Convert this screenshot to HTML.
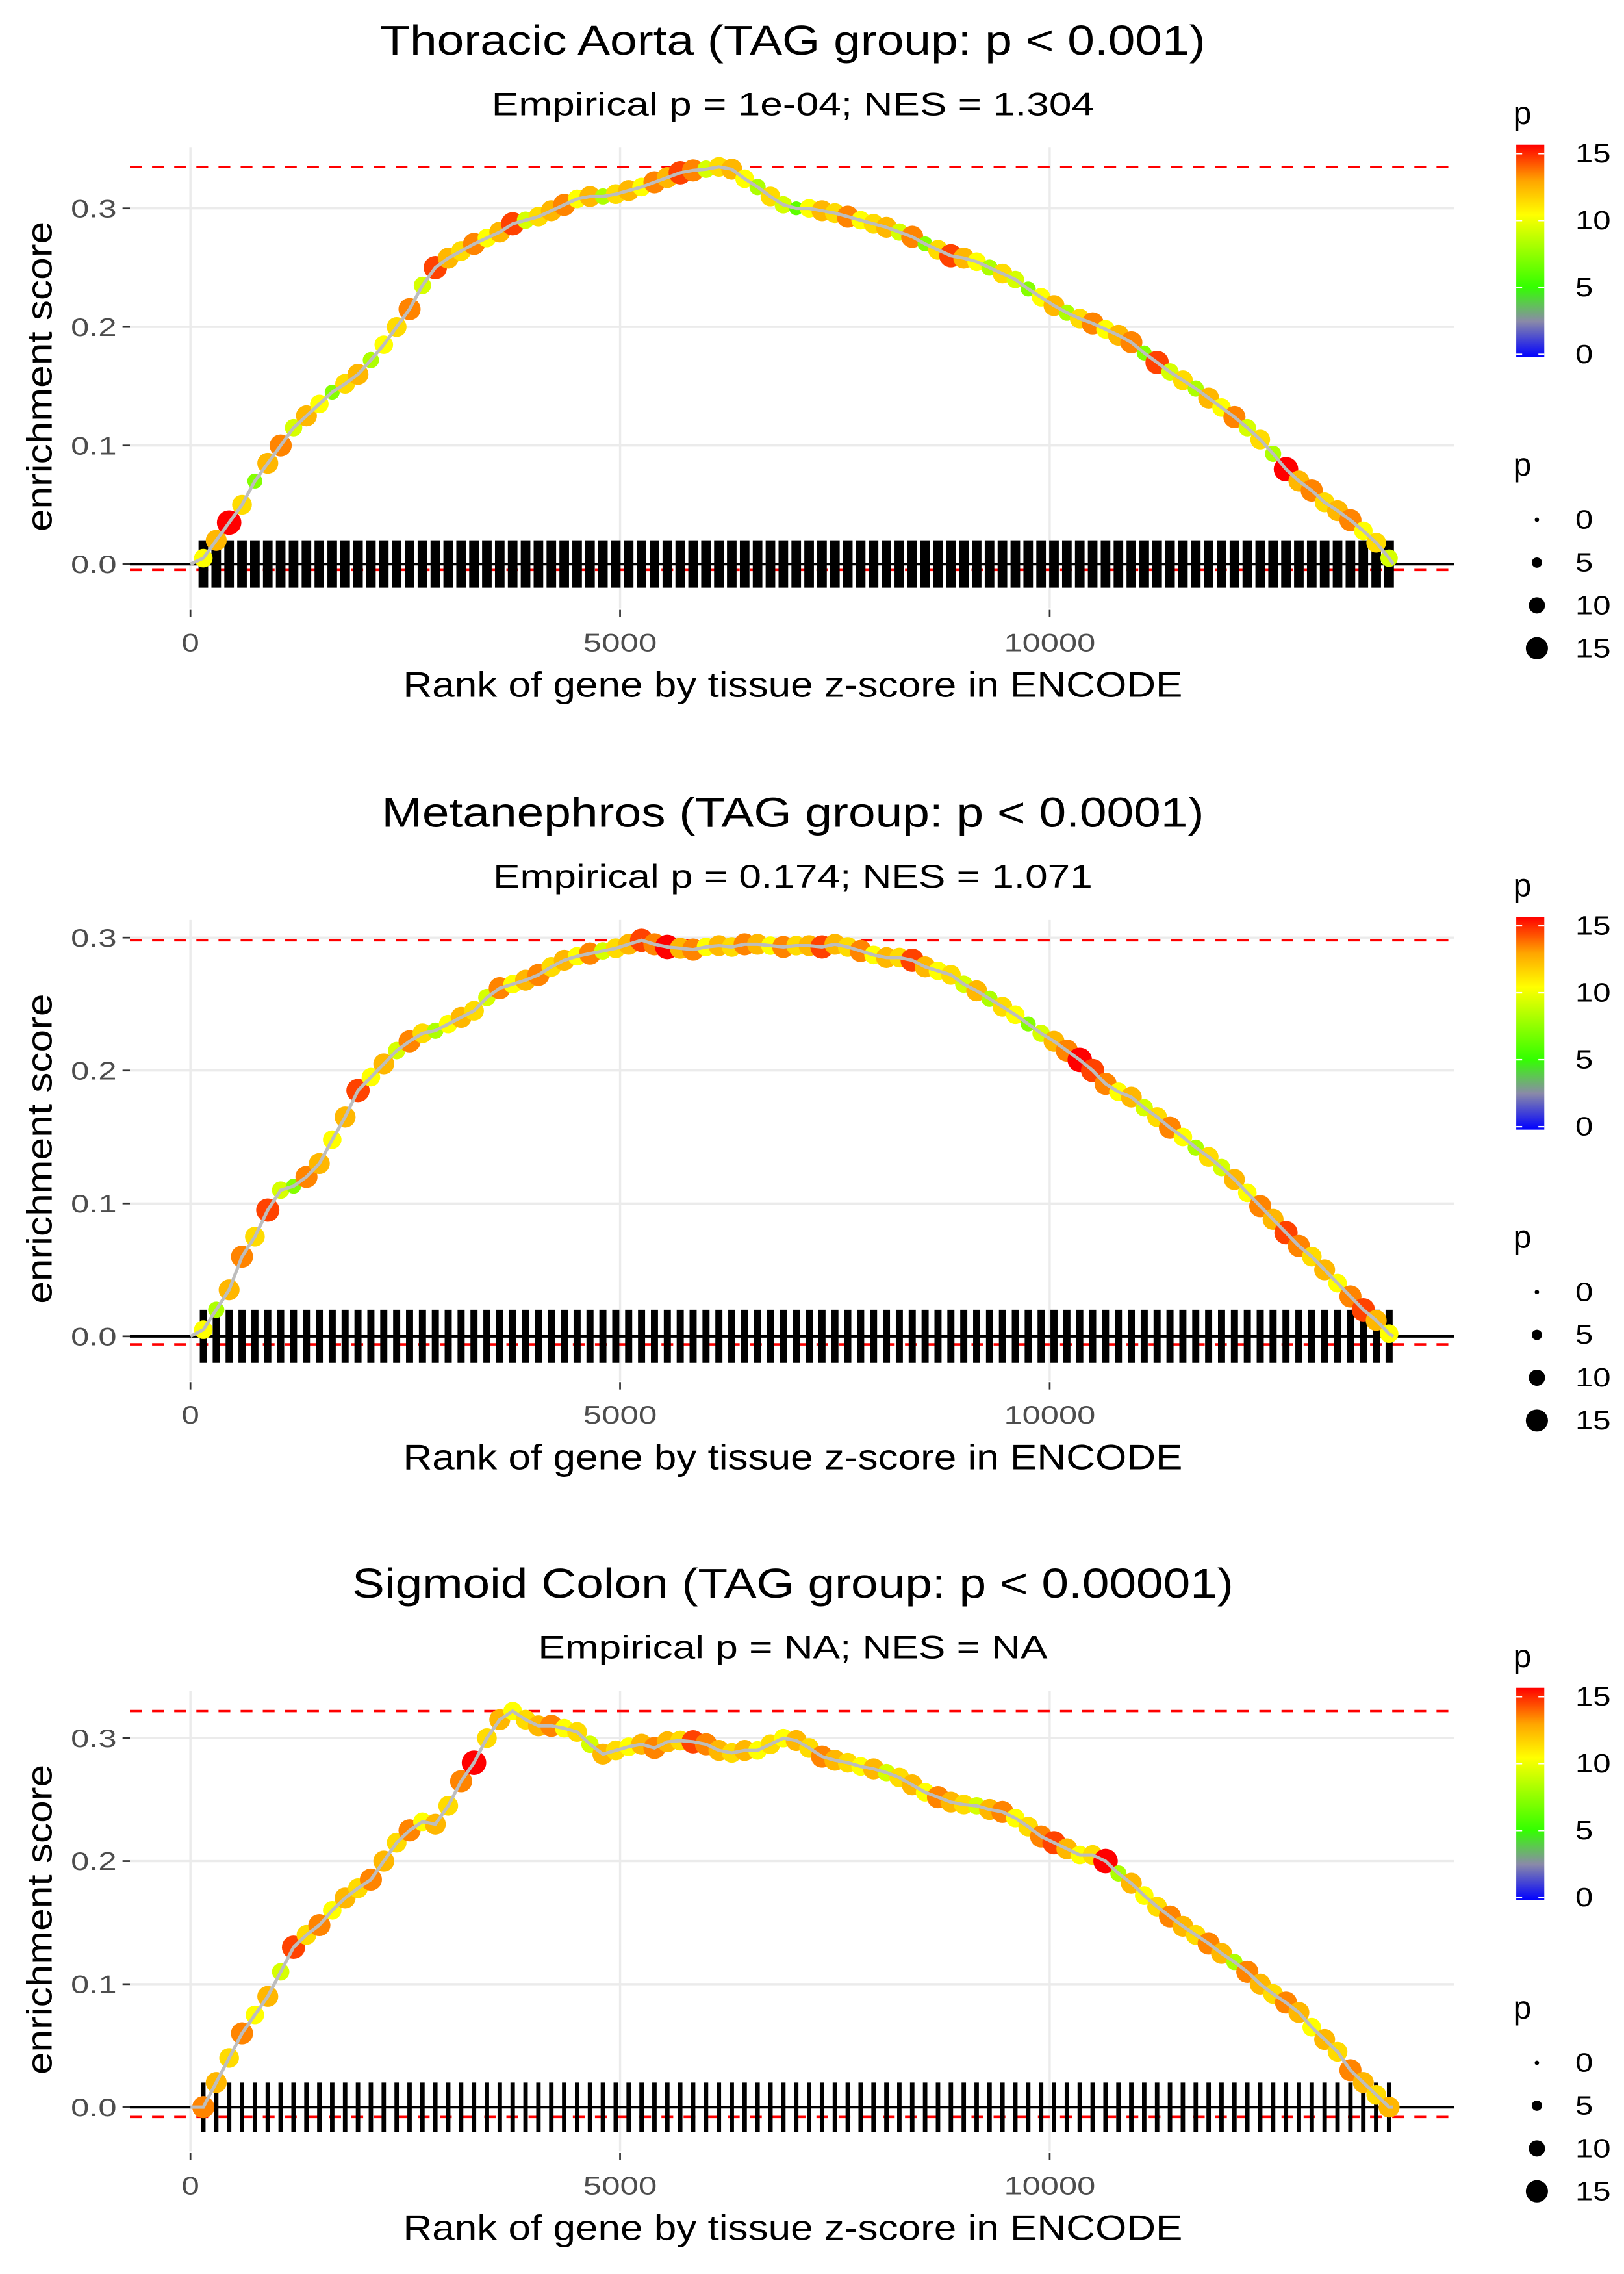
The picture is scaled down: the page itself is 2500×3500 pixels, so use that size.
<!DOCTYPE html>
<html><head><meta charset="utf-8"><style>
html,body{margin:0;padding:0;background:#fff}
svg{display:block}
text{font-family:"Liberation Sans",sans-serif}
</style></head><body>
<svg id="chart" width="2500" height="3500" viewBox="0 0 1100 1540" preserveAspectRatio="none" xmlns="http://www.w3.org/2000/svg">
<defs><linearGradient id="pgrad" x1="0" y1="1" x2="0" y2="0">
<stop offset="0" stop-color="#0000ff"/><stop offset="0.17" stop-color="#8a8aa8"/><stop offset="0.33" stop-color="#33ff00"/><stop offset="0.67" stop-color="#ffff00"/><stop offset="0.83" stop-color="#ffa500"/><stop offset="1" stop-color="#ff0000"/></linearGradient></defs>
</svg>
<script>
const ranks=[150,300,450,600,750,900,1050,1200,1350,1500,1650,1800,1950,2100,2250,2400,2550,2700,2850,3000,3150,3300,3450,3600,3750,3900,4050,4200,4350,4500,4650,4800,4950,5100,5250,5400,5550,5700,5850,6000,6150,6300,6450,6600,6750,6900,7050,7200,7350,7500,7650,7800,7950,8100,8250,8400,8550,8700,8850,9000,9150,9300,9450,9600,9750,9900,10050,10200,10350,10500,10650,10800,10950,11100,11250,11400,11550,11700,11850,12000,12150,12300,12450,12600,12750,12900,13050,13200,13350,13500,13650,13800,13950];
const es1=[0.005,0.02,0.035,0.05,0.07,0.085,0.1,0.115,0.125,0.135,0.145,0.152,0.16,0.172,0.185,0.2,0.215,0.235,0.25,0.258,0.264,0.27,0.275,0.28,0.287,0.29,0.293,0.298,0.303,0.308,0.31,0.31,0.312,0.315,0.318,0.322,0.326,0.33,0.332,0.333,0.335,0.333,0.325,0.318,0.31,0.303,0.3,0.3,0.298,0.296,0.293,0.29,0.287,0.284,0.28,0.276,0.27,0.265,0.26,0.258,0.255,0.25,0.245,0.24,0.232,0.225,0.218,0.212,0.207,0.203,0.198,0.193,0.187,0.178,0.17,0.162,0.155,0.148,0.14,0.132,0.124,0.115,0.105,0.093,0.08,0.07,0.062,0.052,0.045,0.037,0.028,0.018,0.005];
const es2=[0.005,0.02,0.035,0.06,0.075,0.095,0.11,0.113,0.12,0.13,0.148,0.165,0.185,0.195,0.205,0.215,0.222,0.228,0.23,0.235,0.24,0.245,0.255,0.262,0.265,0.268,0.272,0.278,0.283,0.286,0.288,0.29,0.292,0.295,0.298,0.295,0.293,0.292,0.291,0.293,0.294,0.293,0.295,0.295,0.294,0.293,0.294,0.294,0.293,0.295,0.293,0.29,0.287,0.285,0.285,0.283,0.278,0.275,0.272,0.265,0.26,0.254,0.248,0.242,0.235,0.228,0.222,0.215,0.208,0.2,0.19,0.184,0.18,0.172,0.165,0.157,0.15,0.142,0.135,0.127,0.118,0.108,0.098,0.088,0.078,0.068,0.06,0.05,0.04,0.03,0.02,0.012,0.002];
const es3=[0.0,0.02,0.04,0.06,0.075,0.09,0.11,0.13,0.14,0.148,0.16,0.17,0.178,0.185,0.2,0.215,0.225,0.232,0.23,0.245,0.265,0.28,0.3,0.315,0.322,0.315,0.31,0.31,0.308,0.305,0.295,0.287,0.29,0.293,0.295,0.292,0.297,0.298,0.297,0.295,0.29,0.288,0.29,0.29,0.295,0.3,0.298,0.292,0.285,0.282,0.28,0.277,0.275,0.272,0.268,0.262,0.256,0.252,0.248,0.246,0.245,0.242,0.24,0.235,0.228,0.22,0.215,0.21,0.205,0.205,0.2,0.19,0.182,0.172,0.163,0.155,0.147,0.14,0.133,0.125,0.118,0.11,0.1,0.092,0.085,0.077,0.065,0.055,0.045,0.03,0.02,0.01,0.0];
const p1=[10,12,15,11,7,12,13,9,12,10,7,11,12,8,10,11,13,9,14,12,11,13,10,12,14,9,11,12,13,10,12,8,11,12,10,13,12,14,13,9,11,12,10,8,11,9,6,10,12,11,13,10,11,12,9,13,7,11,14,12,10,8,11,9,7,10,12,8,11,13,10,12,13,7,14,9,11,8,12,10,13,9,11,8,15,12,13,11,12,13,10,11,9];
const p2=[10,8,12,13,11,14,9,7,13,12,10,12,14,10,12,9,13,11,8,10,12,11,9,13,10,12,13,11,12,10,13,9,11,12,14,13,15,12,13,10,12,11,13,12,10,13,11,12,14,12,11,13,10,12,11,14,12,10,11,9,12,8,11,10,7,9,12,13,15,14,13,10,12,9,11,13,10,8,11,9,12,10,13,12,14,13,11,12,10,13,14,12,10];
const p3=[13,12,11,13,10,12,9,14,11,13,10,12,11,13,12,11,13,10,12,11,13,15,11,12,10,11,12,13,10,11,9,12,11,10,12,13,12,11,14,13,12,11,12,10,11,10,12,11,13,12,11,10,12,9,11,12,10,13,12,11,9,12,13,10,11,13,14,12,10,11,15,8,12,10,11,13,12,11,13,12,8,13,12,11,13,12,10,12,11,13,12,11,12];
const esMax=[0.335,0.298,0.322];
const esMin=[-0.005,-0.006,-0.008];
const titles=["Thoracic Aorta (TAG group: p < 0.001)","Metanephros (TAG group: p < 0.0001)","Sigmoid Colon (TAG group: p < 0.00001)"];
const subtitles=["Empirical p = 1e-04; NES = 1.304","Empirical p = 0.174; NES = 1.071","Empirical p = NA; NES = NA"];
const xTicks=[0,5000,10000];
const yTicks=[0,0.1,0.2,0.3];
const legendVals=[0,5,10,15];

const svg=document.getElementById('chart');
const NS='http://www.w3.org/2000/svg';
function mk(tag,attrs,parent){const e=document.createElementNS(NS,tag);for(const k in attrs)e.setAttribute(k,attrs[k]);(parent||svg).appendChild(e);return e;}
function lerp(a,b,t){return a.map((v,i)=>Math.round(v+(b[i]-v)*t));}
function pcol(p){const st=[[0,[0,0,255]],[2.5,[138,138,168]],[5,[51,255,0]],[10,[255,255,0]],[12.5,[255,165,0]],[15,[255,0,0]]];
 for(let i=1;i<st.length;i++){if(p<=st[i][0]){const t=(p-st[i-1][0])/(st[i][0]-st[i-1][0]);const c=lerp(st[i-1][1],st[i][1],t);return 'rgb('+c.join(',')+')';}}return 'rgb(255,0,0)';}
function prad(p){return 1.5+p*0.4;}
function txt(g,attrs,s,len){const t=mk('text',attrs,g);t.textContent=s;if(len){t.setAttribute('textLength',len);t.setAttribute('lengthAdjust','spacingAndGlyphs');}return t;}

const layout=[{top:0,y0:382,u:803,rugW:6.5},{top:523,y0:905,u:900,rugW:4.8},{top:1045,y0:1427,u:833,rugW:3}];
const titleW=[559,557,597];const subW=[408,406,345];
const esAll=[es1,es2,es3];const pAll=[p1,p2,p3];
const xs=v=>129+v*0.0582;
const xtW={0:12,5000:50,10000:62};

layout.forEach((L,k)=>{
 const g=mk('g',{});
 
 
 const ys=v=>L.y0-v*L.u;
 const T=L.top;
 const ptop=T+100,pbot=T+412;
 yTicks.forEach(v=>{const l=mk('line',{x1:88,x2:985,y1:ys(v),y2:ys(v),stroke:'#ebebeb','stroke-width':1.5},g);
  
  const tk=mk('line',{x1:83,x2:88,y1:ys(v),y2:ys(v),stroke:'#333','stroke-width':1.2},g);
  
  const t=txt(g,{x:79,y:ys(v)+6,'text-anchor':'end','font-size':17,fill:'#4d4d4d'},v.toFixed(1),31);
  });
 xTicks.forEach(v=>{const l=mk('line',{x1:xs(v),x2:xs(v),y1:ptop,y2:pbot,stroke:'#ebebeb','stroke-width':1.5},g);
  
  const tk=mk('line',{x1:xs(v),x2:xs(v),y1:pbot+1,y2:pbot+6,stroke:'#333','stroke-width':1.2},g);
  
  const t=txt(g,{x:xs(v),y:T+441,'text-anchor':'middle','font-size':17,fill:'#4d4d4d'},String(v),xtW[v]);
  });
 [esMax[k],esMin[k]].forEach(v=>{const l=mk('line',{x1:88,x2:985,y1:ys(v),y2:ys(v),stroke:'#ff0000','stroke-width':1.6,'stroke-dasharray':'8,7'},g);
  });
 ranks.forEach(r=>{const l=mk('line',{x1:xs(r),x2:xs(r),y1:ys(0.02),y2:ys(-0.02),stroke:'#000','stroke-width':L.rugW},g);
  });
 const zl=mk('line',{x1:88,x2:985,y1:ys(0),y2:ys(0),stroke:'#000','stroke-width':1.8},g);
 
 const es=esAll[k],pv=pAll[k];
 ranks.forEach((r,i)=>{const c=mk('circle',{cx:xs(r),cy:ys(es[i]),r:prad(pv[i])+0.8,fill:pcol(pv[i])},g);
  });
 const pts=[[xs(0),ys(0)]].concat(ranks.map((r,i)=>[xs(r),ys(es[i])])).concat([[xs(14000),ys(0)]]);
 const pl=mk('polyline',{points:pts.map(p=>p.join(',')).join(' '),fill:'none',stroke:'#bdbdbd','stroke-width':2.2},g);
 
 const t1=txt(g,{x:537,y:T+37,'text-anchor':'middle','font-size':28,fill:'#000'},titles[k],titleW[k]);
 
 const t2=txt(g,{x:537,y:T+78,'text-anchor':'middle','font-size':22,fill:'#000'},subtitles[k],subW[k]);
 
 const xt=txt(g,{x:537,y:T+472,'text-anchor':'middle','font-size':24,fill:'#000'},'Rank of gene by tissue z-score in ENCODE',528);
 
 const yt=txt(g,{x:0,y:0,'text-anchor':'middle','font-size':24,fill:'#000',transform:'translate(35,'+(T+255)+') rotate(-90)'},'enrichment score',210);
 
 const lt=txt(g,{x:1025,y:T+84,'font-size':22,fill:'#000'},'p');
 
 const cb=mk('rect',{x:1027,y:T+98,width:19,height:144,fill:'url(#pgrad)'},g);
 
 legendVals.forEach(v=>{const yy=T+240-v*(136/15);
  mk('line',{x1:1027,x2:1031,y1:yy,y2:yy,stroke:'#fff','stroke-width':1},g);mk('line',{x1:1042,x2:1046,y1:yy,y2:yy,stroke:'#fff','stroke-width':1},g);
  const t=txt(g,{x:1067,y:yy+6,'font-size':18,fill:'#000'},String(v),v>=10?24:12);
  });
 const st=txt(g,{x:1025,y:T+322,'font-size':22,fill:'#000'},'p');
 
 legendVals.forEach((v,i)=>{const yy=T+352+i*29;
  const c=mk('circle',{cx:1041,cy:yy,r:prad(v),fill:'#000'},g);
  
  const t=txt(g,{x:1067,y:yy+6,'font-size':18,fill:'#000'},String(v),v>=10?24:12);
  });
});
</script>
</body></html>
